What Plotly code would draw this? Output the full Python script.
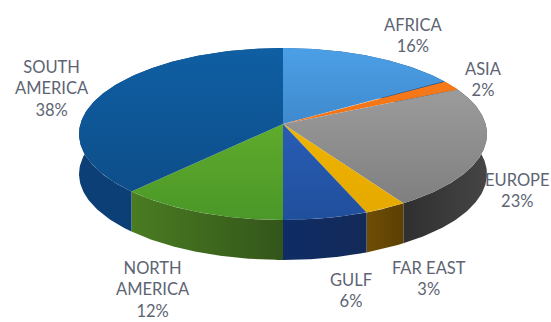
import numpy as np
import plotly.graph_objects as go

# Shares in percent, clockwise from twelve o'clock
categories = ["AFRICA", "ASIA", "EUROPE", "FAR EAST", "GULF", "NORTH AMERICA", "SOUTH AMERICA"]
values = [16, 2, 23, 3, 6, 12, 38]
label_lines = ["AFRICA<br>16%", "ASIA<br>2%", "EUROPE<br>23%", "FAR EAST<br>3%",
               "GULF<br>6%", "NORTH<br>AMERICA<br>12%", "SOUTH<br>AMERICA<br>38%"]
top_light = ["#4c9fe6", "#f97c1c", "#a6a6a6", "#f7bd00", "#2f68c8", "#6fbb30", "#0f5fa3"]
top_dark = ["#2f6fae", "#e86a10", "#7b7b7b", "#e5a800", "#204f9c", "#4b9728", "#0d4a85"]
wall_left = ["#1d4f80", "#a84c0a", "#2f2f2f", "#6f4d05", "#0f2c66", "#4a7c22", "#0c3f75"]
wall_right = ["#1d4f80", "#a84c0a", "#454545", "#5c4003", "#132a58", "#33551a", "#0c3f75"]
label_x = [413, 483, 517, 429, 351, 153, 52]
label_y = [35, 79, 190, 278, 290, 289, 88]

# Pie geometry in page pixels, with a simple perspective on the disc
CX, CY = 283, 124
RX, RY = 202.6, 84.8
TILT = 0.116
DEPTH = 40


def project(theta):
    u, v = np.sin(theta), -np.cos(theta)
    w = 1 - TILT * v
    return CX + RX * u / w, CY + RY * v / w


edges = np.radians(np.cumsum([0] + values) / sum(values) * 360)
fig = go.Figure()

# Side walls go first so the top faces cover the back ones
for i, name in enumerate(categories):
    t = np.linspace(edges[i], edges[i + 1], 120)
    x, y = project(t)
    fig.add_trace(go.Scatter(
        x=np.r_[x, x[::-1]], y=np.r_[y, (y + DEPTH)[::-1]],
        mode="lines", line=dict(width=0), fill="toself", name=name, showlegend=False,
        hoverinfo="name",
        fillgradient=dict(type="horizontal",
                          colorscale=[[0, wall_left[i]], [1, wall_right[i]]]),
    ))

for i, name in enumerate(categories):
    t = np.linspace(edges[i], edges[i + 1], 120)
    x, y = project(t)
    fig.add_trace(go.Scatter(
        x=np.r_[CX, x, CX], y=np.r_[CY, y, CY],
        mode="lines", line=dict(width=0), fill="toself", name=name, showlegend=False,
        hoverinfo="name",
        fillgradient=dict(type="vertical", start=48, stop=220,
                          colorscale=[[0, top_light[i]], [1, top_dark[i]]]),
    ))

for text, lx, ly in zip(label_lines, label_x, label_y):
    fig.add_annotation(x=lx, y=ly, text=text, showarrow=False, xanchor="center", yanchor="middle",
                       font=dict(family="Lato", size=16.5, color="#5d6473"))

fig.update_layout(
    width=551, height=322, margin=dict(l=0, r=0, t=0, b=0),
    paper_bgcolor="white", plot_bgcolor="white",
    xaxis=dict(range=[0, 551], visible=False),
    yaxis=dict(range=[322, 0], visible=False),
)
fig.write_html("out.html")
